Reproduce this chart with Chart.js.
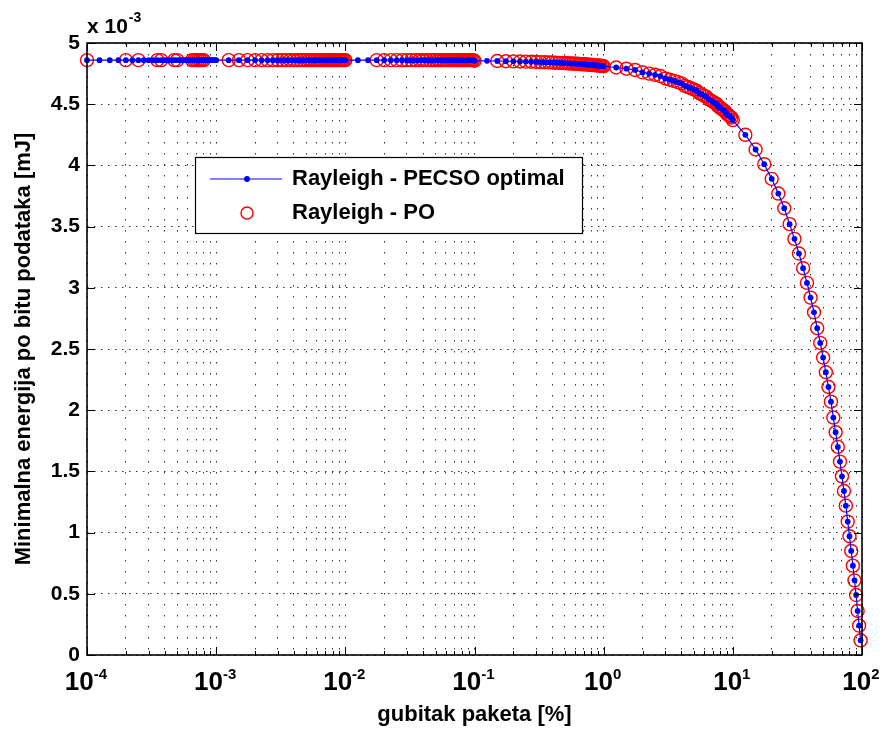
<!DOCTYPE html>
<html>
<head>
<meta charset="utf-8">
<script src="https://cdn.jsdelivr.net/npm/chart.js@4.4.0/dist/chart.umd.min.js"></script>
<style>
  html, body { margin: 0; padding: 0; background: #fff; }
</style>
</head>
<body>
<canvas id="chart" width="885" height="730"></canvas>
<script>
// packet loss grid [%]: each decade is sampled at these steps
const lossSteps = [1, 1.25, 1.5, 1.75, 2, 2.25, 2.5, 2.75, 3, 3.25, 3.5, 3.75, 4, 4.25, 4.5, 4.75,
  5, 5.25, 5.5, 5.75, 6, 6.25, 6.5, 6.75, 7, 7.25, 7.5, 7.75, 8, 8.25, 8.5, 8.75, 9, 9.25, 9.5, 9.75];
const lossDecades = [1e-4, 1e-3, 1e-2, 1e-1, 1, 10];

// minimal energy per bit [x 1e-3 mJ]
const energyFlat = [4.86, 4.86, 4.86]; // decades 1e-4, 1e-3, 1e-2 -> flat
const energyDecade4 = [4.855, 4.854, 4.853, 4.851, 4.850, 4.849, 4.848, 4.847, 4.845, 4.844, 4.843, 4.842,
  4.841, 4.839, 4.838, 4.837, 4.836, 4.834, 4.833, 4.832, 4.831, 4.830, 4.828, 4.827,
  4.826, 4.825, 4.824, 4.822, 4.821, 4.820, 4.819, 4.817, 4.816, 4.815, 4.814, 4.813];
const energyDecade5 = [4.81, 4.80, 4.79, 4.78, 4.76, 4.75, 4.74, 4.73, 4.71, 4.70, 4.69, 4.68,
  4.67, 4.65, 4.64, 4.63, 4.62, 4.61, 4.59, 4.58, 4.57, 4.56, 4.54, 4.53,
  4.52, 4.51, 4.50, 4.48, 4.47, 4.46, 4.45, 4.44, 4.42, 4.41, 4.40, 4.39];
const energyDecade6 = [4.37, 4.25, 4.13, 4.01, 3.89, 3.77, 3.65, 3.52, 3.40, 3.28, 3.16, 3.04,
  2.92, 2.80, 2.67, 2.55, 2.43, 2.31, 2.19, 2.07, 1.94, 1.82, 1.70, 1.58,
  1.46, 1.34, 1.22, 1.09, 0.97, 0.85, 0.73, 0.61, 0.49, 0.36, 0.24, 0.12];

// loss values where the PO run has no marker
const poGaps = [1.25e-4, 1.5e-4, 1.75e-4, 2.25e-4, 2.75e-4, 3e-4, 3.25e-4, 4e-4, 4.25e-4, 4.5e-4,
  5.25e-4, 5.5e-4, 5.75e-4, 6e-4, 6.25e-4, 8.25e-4, 8.5e-4, 8.75e-4, 9e-4, 9.25e-4, 9.5e-4, 9.75e-4,
  1e-3, 1.25e-2, 1.5e-2, 0.125];

const xTickExponents = [-4, -3, -2, -1, 0, 1, 2];
const yTickStep = 0.5;

const energyDecades = [energyFlat[0], energyFlat[1], energyFlat[2], energyDecade4, energyDecade5, energyDecade6];
const pecsoPoints = [];
lossDecades.forEach((d, i) => {
  lossSteps.forEach((s, j) => {
    const e = energyDecades[i];
    pecsoPoints.push({ x: s * d, y: Array.isArray(e) ? e[j] : e });
  });
});
const poPoints = pecsoPoints.filter(p => !poGaps.some(g => Math.abs(p.x - g) < g * 1e-6));

// grid at 1..9 of every decade
const xGridValues = [];
lossDecades.forEach(d => { for (let m = 1; m <= 9; m++) xGridValues.push(m * d); });
xGridValues.push(100);

const FONT = "'Liberation Sans', Arial, Helvetica, sans-serif";
Chart.defaults.font.family = FONT;
Chart.defaults.color = '#000';

const isDecade = v => Math.abs(Math.log10(v) - Math.round(Math.log10(v))) < 1e-9;

const matlabAxes = {
  id: 'matlabAxes',
  afterDraw(chart) {
    const { ctx, chartArea: a, scales: { x, y } } = chart;
    ctx.save();

    // inward ticks
    ctx.strokeStyle = '#000';
    ctx.lineWidth = 1;
    ctx.beginPath();
    xGridValues.forEach(v => {
      const px = Math.round(x.getPixelForValue(v)) + 0.5;
      const len = isDecade(v) ? 8 : 4;
      ctx.moveTo(px, a.bottom); ctx.lineTo(px, a.bottom - len);
      ctx.moveTo(px, a.top); ctx.lineTo(px, a.top + len);
    });
    y.ticks.forEach(t => {
      const py = Math.round(y.getPixelForValue(t.value)) + 0.5;
      ctx.moveTo(a.left, py); ctx.lineTo(a.left + 8, py);
      ctx.moveTo(a.right, py); ctx.lineTo(a.right - 8, py);
    });
    ctx.stroke();

    // frame
    ctx.lineWidth = 1.6;
    ctx.strokeRect(a.left, a.top, a.right - a.left, a.bottom - a.top);

    // x tick labels 10^n
    ctx.fillStyle = '#000';
    ctx.textBaseline = 'alphabetic';
    ctx.textAlign = 'left';
    xTickExponents.forEach(e => {
      const px = x.getPixelForValue(Math.pow(10, e));
      ctx.font = 'bold 26px ' + FONT;
      const wb = ctx.measureText('10').width;
      ctx.font = 'bold 15px ' + FONT;
      const sup = String(e);
      const we = ctx.measureText(sup).width;
      const x0 = px - (wb + we) / 2 - 1;
      ctx.font = 'bold 26px ' + FONT;
      ctx.fillText('10', x0, 690);
      ctx.font = 'bold 15px ' + FONT;
      ctx.fillText(sup, x0 + wb, 679);
    });

    // y multiplier
    ctx.font = 'bold 21px ' + FONT;
    ctx.fillText('x 10', a.left, 33);
    const wm = ctx.measureText('x 10').width;
    ctx.font = 'bold 14px ' + FONT;
    ctx.fillText('-3', a.left + wm + 1, 22);

    // legend box
    const [blue, red] = chart.data.datasets;
    const lx = 195, ly = 157, lw = 387, lh = 76;
    ctx.fillStyle = '#fff';
    ctx.fillRect(lx, ly, lw, lh);
    ctx.lineWidth = 1.2;
    ctx.strokeStyle = '#000';
    ctx.strokeRect(lx + 0.5, ly + 0.5, lw, lh);

    const row1 = ly + 22, row2 = ly + 56;
    ctx.strokeStyle = blue.borderColor;
    ctx.lineWidth = blue.borderWidth;
    ctx.beginPath();
    ctx.moveTo(lx + 15, row1); ctx.lineTo(lx + 87, row1);
    ctx.stroke();
    ctx.fillStyle = blue.pointBackgroundColor;
    ctx.beginPath();
    ctx.arc(lx + 52, row1, blue.pointRadius, 0, Math.PI * 2);
    ctx.fill();

    ctx.strokeStyle = red.pointBorderColor;
    ctx.lineWidth = red.pointBorderWidth;
    ctx.beginPath();
    ctx.arc(lx + 52, row2, 6, 0, Math.PI * 2);
    ctx.stroke();

    ctx.fillStyle = '#000';
    ctx.font = 'bold 22px ' + FONT;
    ctx.textBaseline = 'middle';
    ctx.fillText(blue.label, lx + 97, row1);
    ctx.fillText(red.label, lx + 97, row2);

    ctx.restore();
  }
};

new Chart(document.getElementById('chart'), {
  type: 'line',
  data: {
    datasets: [
      {
        label: 'Rayleigh - PECSO optimal',
        data: pecsoPoints,
        borderColor: '#0000ff',
        backgroundColor: '#0000ff',
        borderWidth: 1.2,
        pointRadius: 2.9,
        pointBorderWidth: 0,
        pointBackgroundColor: '#0000ff',
        tension: 0,
        clip: false
      },
      {
        label: 'Rayleigh - PO',
        data: poPoints,
        showLine: false,
        borderColor: '#ff0000',
        pointBorderColor: '#ff0000',
        pointBackgroundColor: 'rgba(0,0,0,0)',
        pointRadius: 6.5,
        pointBorderWidth: 1.4,
        clip: false
      }
    ]
  },
  options: {
    responsive: false,
    animation: false,
    events: [],
    layout: { padding: { left: 0, right: 23, top: 43, bottom: 0 } },
    plugins: { legend: { display: false }, tooltip: { enabled: false } },
    scales: {
      x: {
        type: 'logarithmic',
        min: 1e-4,
        max: 100,
        afterBuildTicks: s => { s.ticks = xGridValues.map(v => ({ value: v })); },
        afterFit: s => { s.height = 75; },
        ticks: { display: false },
        grid: { color: '#333', lineWidth: 1, drawTicks: false },
        border: { display: false, dash: [1.5, 9.5] },
        title: {
          display: true,
          text: 'gubitak paketa [%]',
          color: '#000',
          font: { size: 22, weight: 'bold' },
          padding: { top: 0, bottom: 2 }
        }
      },
      y: {
        min: 0,
        max: 5,
        afterFit: s => { s.width = 87; },
        ticks: {
          stepSize: yTickStep,
          color: '#000',
          font: { size: 21, weight: 'bold' },
          padding: 7,
          callback: v => String(Math.round(v * 10) / 10)
        },
        grid: { color: '#333', lineWidth: 1, drawTicks: false },
        border: { display: false, dash: [1.5, 5.5] },
        title: {
          display: true,
          text: 'Minimalna energija po bitu podataka [mJ]',
          color: '#000',
          font: { size: 22, weight: 'bold' },
          padding: { top: 11, bottom: 0 }
        }
      }
    }
  },
  plugins: [matlabAxes]
});
</script>
</body>
</html>
